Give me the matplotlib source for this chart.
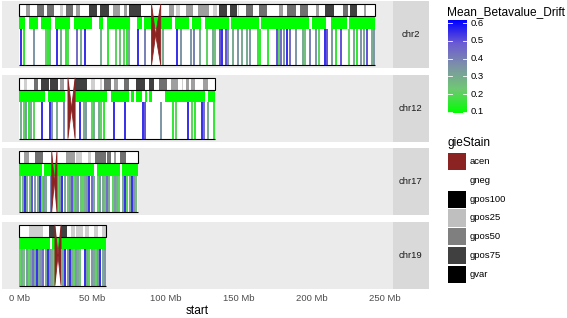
import numpy as np
import matplotlib
matplotlib.use("Agg")
import matplotlib.pyplot as plt
from matplotlib.colors import LinearSegmentedColormap, Normalize
from matplotlib.patches import Rectangle, Polygon

plt.rcParams['font.family'] = ['Liberation Sans', 'DejaVu Sans']

# ---- data -------------------------------------------------------------
chroms = ["chr2", "chr12", "chr17", "chr19"]
chrom_len = [243.2, 133.85, 81.2, 59.13]

# cytobands (start Mb, end Mb, stain)
bands_chr2 = [
    (0, 4.4, "gneg"), (4.4, 7.1, "gpos50"), (7.1, 12.2, "gneg"), (12.2, 16.7, "gpos75"),
    (16.7, 19.2, "gneg"), (19.2, 24.0, "gpos75"), (24.0, 27.9, "gneg"), (27.9, 30.0, "gpos25"),
    (30.0, 32.1, "gneg"), (32.1, 36.6, "gpos75"), (36.6, 38.6, "gneg"), (38.6, 41.8, "gpos50"),
    (41.8, 47.8, "gneg"), (47.8, 52.9, "gpos100"), (52.9, 55.0, "gneg"), (55.0, 61.3, "gpos100"),
    (61.3, 64.1, "gneg"), (64.1, 68.6, "gpos50"), (68.6, 71.5, "gneg"), (71.5, 73.5, "gpos50"),
    (73.5, 75.0, "gneg"), (75.0, 83.3, "gpos100"), (83.3, 90.5, "gneg"), (90.5, 93.3, "acen"),
    (93.3, 96.8, "acen"), (96.8, 102.7, "gneg"), (102.7, 106.0, "gpos50"), (106.0, 107.5, "gneg"),
    (107.5, 110.2, "gpos25"), (110.2, 114.4, "gneg"), (114.4, 118.8, "gpos50"), (118.8, 122.4, "gneg"),
    (122.4, 129.9, "gpos50"), (129.9, 132.5, "gneg"), (132.5, 135.1, "gpos25"), (135.1, 136.8, "gneg"),
    (136.8, 142.2, "gpos100"), (142.2, 144.1, "gneg"), (144.1, 148.7, "gpos100"), (148.7, 149.9, "gneg"),
    (149.9, 150.5, "gpos25"), (150.5, 154.9, "gneg"), (154.9, 159.8, "gpos75"), (159.8, 163.7, "gneg"),
    (163.7, 169.7, "gpos75"), (169.7, 178.0, "gneg"), (178.0, 180.6, "gpos50"), (180.6, 183.0, "gneg"),
    (183.0, 189.4, "gpos75"), (189.4, 191.9, "gneg"), (191.9, 197.4, "gpos75"), (197.4, 203.3, "gneg"),
    (203.3, 204.9, "gpos50"), (204.9, 209.0, "gneg"), (209.0, 215.3, "gpos100"), (215.3, 221.5, "gneg"),
    (221.5, 225.2, "gpos75"), (225.2, 226.1, "gneg"), (226.1, 231.0, "gpos100"), (231.0, 235.6, "gneg"),
    (235.6, 237.3, "gpos50"), (237.3, 243.2, "gneg"),
]
bands_chr12 = [
    (0, 3.3, "gneg"), (3.3, 5.4, "gpos25"), (5.4, 10.1, "gneg"), (10.1, 12.8, "gpos75"),
    (12.8, 14.8, "gneg"), (14.8, 20.0, "gpos100"), (20.0, 21.3, "gneg"), (21.3, 26.5, "gpos100"),
    (26.5, 27.8, "gneg"), (27.8, 30.7, "gpos50"), (30.7, 33.3, "gneg"), (33.3, 35.8, "acen"),
    (35.8, 38.2, "acen"), (38.2, 46.4, "gpos100"), (46.4, 49.1, "gneg"), (49.1, 51.5, "gpos25"),
    (51.5, 54.9, "gneg"), (54.9, 56.6, "gpos25"), (56.6, 58.1, "gneg"), (58.1, 63.1, "gpos75"),
    (63.1, 65.1, "gneg"), (65.1, 67.7, "gpos50"), (67.7, 71.5, "gneg"), (71.5, 75.3, "gpos75"),
    (75.3, 79.9, "gneg"), (79.9, 86.3, "gpos100"), (86.3, 88.6, "gneg"), (88.6, 92.2, "gpos100"),
    (92.2, 95.8, "gneg"), (95.8, 101.2, "gpos75"), (101.2, 103.5, "gneg"), (103.5, 108.6, "gpos50"),
    (108.6, 111.3, "gneg"), (111.3, 111.9, "gpos25"), (111.9, 113.9, "gneg"), (113.9, 116.4, "gpos50"),
    (116.4, 117.7, "gneg"), (117.7, 120.3, "gpos50"), (120.3, 125.4, "gneg"), (125.4, 128.9, "gpos50"),
    (128.9, 133.85, "gneg"),
]
bands_chr17 = [
    (0, 3.3, "gneg"), (3.3, 6.5, "gpos50"), (6.5, 10.7, "gneg"), (10.7, 16.0, "gpos75"),
    (16.0, 22.2, "gneg"), (22.2, 24.0, "acen"), (24.0, 25.8, "acen"), (25.8, 31.8, "gneg"),
    (31.8, 38.1, "gpos50"), (38.1, 38.5, "gneg"), (38.5, 42.8, "gpos25"), (42.8, 46.8, "gneg"),
    (46.8, 49.3, "gpos25"), (49.3, 52.1, "gneg"), (52.1, 59.5, "gpos75"), (59.5, 60.2, "gneg"),
    (60.2, 63.1, "gpos75"), (63.1, 64.6, "gneg"), (64.6, 66.2, "gpos50"), (66.2, 69.1, "gneg"),
    (69.1, 72.9, "gpos75"), (72.9, 76.8, "gneg"), (76.8, 77.2, "gpos25"), (77.2, 81.2, "gneg"),
]
bands_chr19 = [
    (0, 6.9, "gneg"), (6.9, 13.9, "gpos25"), (13.9, 14.0, "gneg"), (14.0, 16.3, "gpos25"),
    (16.3, 20.0, "gneg"), (20.0, 24.4, "gvar"), (24.4, 26.5, "acen"), (26.5, 28.6, "acen"),
    (28.6, 32.4, "gvar"), (32.4, 35.5, "gneg"), (35.5, 38.3, "gpos25"), (38.3, 38.7, "gneg"),
    (38.7, 43.4, "gpos25"), (43.4, 45.2, "gneg"), (45.2, 48.0, "gpos25"), (48.0, 51.4, "gneg"),
    (51.4, 53.6, "gpos25"), (53.6, 56.3, "gneg"), (56.3, 59.13, "gpos25"),
]

# green row intervals (Mb)
green_chr2 = [(0, 3.6), (6.4, 12.8), (15.1, 21.9), (24.2, 34.9), (37.2, 49.8), (54.3, 57.1),
              (60, 76), (80.6, 84), (85.2, 104.6), (106.4, 115.9), (118.3, 124), (127.4, 143.4),
              (145.2, 163.9), (165.5, 198.1), (200.4, 209.6), (213, 224.4), (225.6, 243.2)]
green_chr12 = [(0, 17.8), (19.4, 31.5), (38.2, 60), (63, 74.9), (76.5, 78.8), (80.2, 84.1),
               (86, 87.4), (88.6, 91), (99.5, 127.4), (129, 133.85)]
green_chr17 = [(0, 15.5), (16.7, 50.9), (53.2, 69.2), (70.3, 81.2)]
green_chr19 = [(0, 21.2), (22.4, 44.1), (44.6, 59.13)]

# Mean_Betavalue_Drift regions: position (Mb) and value
pos_chr2 = [1.1, 3.0, 10.3, 18.3, 19.5, 21.0, 25.6, 28.5, 31.7, 33.0, 39.7, 42.2, 45.2, 56.2,
            60.5, 66.2, 68.9, 71.9, 73.5, 75.3, 81.3, 85.8, 98.4, 108.0, 110.7, 117.6, 119.4,
            123.5, 128.6, 132.4, 134.2, 137.0, 138.8, 141.4, 142.7, 146.3, 149.5, 152.5, 155.7,
            158.0, 163.2, 165.0, 170.3, 176.4, 178.0, 179.0, 181.4, 183.0, 185.0, 189.5, 194.0,
            195.5, 199.1, 202.7, 205.0, 208.9, 210.5, 214.1, 217.0, 219.8, 225.5, 229.0, 231.0,
            233.6, 236.0, 238.1, 241.0, 242.7]
val_chr2 = [0.55, 0.15, 0.35, 0.2, 0.15, 0.3, 0.55, 0.3, 0.15, 0.2, 0.45, 0.3, 0.55, 0.3,
            0.15, 0.2, 0.25, 0.2, 0.15, 0.3, 0.55, 0.4, 0.3, 0.55, 0.35, 0.35, 0.4,
            0.3, 0.2, 0.3, 0.25, 0.5, 0.55, 0.5, 0.35, 0.3, 0.35, 0.3, 0.3,
            0.35, 0.15, 0.15, 0.15, 0.5, 0.2, 0.45, 0.35, 0.55, 0.45, 0.35, 0.3,
            0.25, 0.4, 0.35, 0.2, 0.55, 0.5, 0.35, 0.15, 0.5, 0.2, 0.3, 0.15,
            0.35, 0.3, 0.5, 0.3, 0.35]

pos_chr12 = [1.4, 3.0, 4.6, 6.4, 8.2, 10.0, 15.5, 21.2, 22.5, 25.8, 30.4, 41.8, 44.0, 45.7,
             49.8, 51.4, 54.8, 56.0, 58.0, 65.1, 72.6, 84.5, 86.3, 97.1, 105.5, 107.0, 115.3,
             118.3, 120.0, 125.1, 126.5, 129.2, 133.0]
val_chr12 = [0.3, 0.2, 0.35, 0.15, 0.3, 0.2, 0.55, 0.55, 0.35, 0.3, 0.4, 0.55, 0.3, 0.35,
             0.2, 0.3, 0.3, 0.2, 0.15, 0.55, 0.55, 0.55, 0.5, 0.35, 0.15, 0.2, 0.55,
             0.2, 0.15, 0.55, 0.45, 0.3, 0.15]

pos_chr17 = [0.5, 2.5, 4.0, 5.5, 7.5, 9.0, 11.0, 12.5, 14.0, 15.5, 17.0, 18.5, 22.0, 26.5,
             28.0, 29.5, 31.0, 33.0, 34.5, 36.0, 37.5, 39.0, 40.5, 42.0, 43.5, 45.0, 46.5,
             48.0, 49.5, 51.0, 54.0, 55.5, 57.0, 58.5, 60.0, 61.2, 64.0, 65.5, 67.0, 68.3,
             71.0, 72.5, 74.0, 75.5, 77.0, 78.5, 80.0]
val_chr17 = [0.2, 0.3, 0.55, 0.3, 0.25, 0.5, 0.35, 0.3, 0.55, 0.2, 0.35, 0.3, 0.4, 0.2,
             0.35, 0.55, 0.3, 0.25, 0.35, 0.5, 0.2, 0.3, 0.35, 0.25, 0.2, 0.3, 0.35,
             0.55, 0.45, 0.3, 0.2, 0.35, 0.3, 0.25, 0.45, 0.3, 0.2, 0.35, 0.3, 0.2,
             0.3, 0.55, 0.2, 0.3, 0.55, 0.35, 0.25]

pos_chr19 = [0.5, 2.0, 3.5, 5.0, 6.5, 8.0, 9.5, 11.0, 12.2, 13.5, 15.0, 16.5, 18.0, 19.5,
             21.0, 22.5, 24.0, 30.0, 31.5, 33.0, 34.5, 36.0, 37.5, 39.0, 40.5, 41.5, 45.0,
             46.5, 48.0, 49.5, 51.0, 52.5, 54.0, 55.5, 57.0, 58.5]
val_chr19 = [0.2, 0.3, 0.25, 0.35, 0.2, 0.3, 0.45, 0.3, 0.55, 0.3, 0.35, 0.45, 0.3, 0.55,
             0.35, 0.3, 0.2, 0.3, 0.55, 0.35, 0.55, 0.3, 0.2, 0.35, 0.3, 0.25, 0.55,
             0.3, 0.2, 0.35, 0.3, 0.2, 0.35, 0.55, 0.3, 0.35]

x_ticks = [0, 50, 100, 150, 200, 250]
x_tick_labels = ["0 Mb", "50 Mb", "100 Mb", "150 Mb", "200 Mb", "250 Mb"]
cbar_ticks = [0.1, 0.2, 0.3, 0.4, 0.5, 0.6]
drift_min, drift_max = 0.093, 0.617

stain_names = ["acen", "gneg", "gpos100", "gpos25", "gpos50", "gpos75", "gvar"]
stain_colors = {"acen": "#8B2323", "gneg": "#FFFFFF", "gpos100": "#000000",
                "gpos25": "#BFBFBF", "gpos50": "#7F7F7F", "gpos75": "#404040",
                "gvar": "#000000"}

all_bands = [bands_chr2, bands_chr12, bands_chr17, bands_chr19]
all_green = [green_chr2, green_chr12, green_chr17, green_chr19]
all_pos = [pos_chr2, pos_chr12, pos_chr17, pos_chr19]
all_val = [val_chr2, val_chr12, val_chr17, val_chr19]

# ggplot-style green -> blue gradient (Lab interpolated)
cmap = LinearSegmentedColormap.from_list(
    "drift", ["#00FF00", "#6FC972", "#7D93A6", "#6C5BD3", "#0000FF"])
norm = Normalize(drift_min, drift_max)

# ---- layout (pixel helpers) ------------------------------------------
W, H = 567, 318
fig = plt.figure(figsize=(W / 100, H / 100), dpi=100)


def fx(px):
    return px / W


def fy(py):
    return 1 - py / H


panel_left, panel_right = 1.5, 392.5
strip_right = 429
panel_tops = [1.2, 74.7, 148.2, 221.7]
panel_h = 67

xmax = max(chrom_len)
xlim = (-0.05 * xmax, xmax * 1.05)

for i, name in enumerate(chroms):
    top = panel_tops[i]
    ax = fig.add_axes([fx(panel_left), fy(top + panel_h), fx(panel_right) - fx(panel_left),
                       panel_h / H])
    ax.set_facecolor("#EBEBEB")
    ax.set_xlim(*xlim)
    ax.set_ylim(1.05, -0.05)
    for s in ax.spines.values():
        s.set_visible(False)
    ax.set_yticks([])
    ax.tick_params(length=0)
    L = chrom_len[i]

    # white base of chromosome
    ax.add_patch(Rectangle((0, 0), L, 1.0, facecolor="white", edgecolor="none", zorder=1))

    # ideogram
    acen = []
    for s, e, st in all_bands[i]:
        if st == "acen":
            acen.append((s, e))
            continue
        ax.add_patch(Rectangle((s, 0), e - s, 0.2, facecolor=stain_colors[st],
                               edgecolor="none", alpha=0.75, zorder=2))
    ax.add_patch(Rectangle((0, 0), L, 0.2, facecolor="none", edgecolor="black",
                           lw=0.8, zorder=5))

    # green row
    for s, e in all_green[i]:
        ax.add_patch(Rectangle((s, 0.2), e - s, 0.2, facecolor="#00FF00",
                               edgecolor="none", zorder=2))

    # drift regions
    ax.vlines(all_pos[i], 0.4, 1.0, colors=cmap(norm(np.array(all_val[i]))),
              lw=1.4, zorder=3)

    # bottom line
    ax.plot([0, L], [1.0, 1.0], color="black", lw=0.8, zorder=5, solid_capstyle="butt")

    # centromere bowtie
    (ps, pe), (qs, qe) = acen
    ax.add_patch(Polygon([(ps, 0), (ps, 1.0), (pe, 0.5)], closed=True,
                         facecolor="#8B2323", edgecolor="#8B2323", lw=0.6, zorder=6))
    ax.add_patch(Polygon([(qe, 0), (qe, 1.0), (qs, 0.5)], closed=True,
                         facecolor="#8B2323", edgecolor="#8B2323", lw=0.6, zorder=6))

    if i == len(chroms) - 1:
        ax.set_xticks(x_ticks)
        ax.set_xticklabels(x_tick_labels, fontsize=6.8, color="#4D4D4D")
        ax.tick_params(axis="x", pad=4)
    else:
        ax.set_xticks([])

    # strip
    sax = fig.add_axes([fx(panel_right), fy(top + panel_h), fx(strip_right) - fx(panel_right),
                        panel_h / H])
    sax.set_facecolor("#D9D9D9")
    sax.set_xticks([])
    sax.set_yticks([])
    for s in sax.spines.values():
        s.set_visible(False)
    sax.text(0.5, 0.5, name, ha="center", va="center", fontsize=6.8, color="#1A1A1A",
             transform=sax.transAxes)

fig.text(fx((panel_left + panel_right) / 2), fy(311.5), "start", ha="center", va="center",
         fontsize=8.6)

# ---- colourbar legend ------------------------------------------------
fig.text(fx(447.5), fy(12.5), "Mean_Betavalue_Drift", ha="left", va="center", fontsize=8.6)
cb_top, cb_bot = 20, 113
cax = fig.add_axes([fx(447.7), fy(cb_bot), fx(466.7) - fx(447.7), (cb_bot - cb_top) / H])
grad = np.linspace(drift_min, drift_max, 200).reshape(-1, 1)
cax.imshow(grad, cmap=cmap, norm=norm, aspect="auto", origin="lower",
           extent=(0, 1, drift_min, drift_max))
cax.set_xlim(0, 1)
cax.set_ylim(drift_min, drift_max)
cax.set_xticks([])
cax.set_yticks([])
for s in cax.spines.values():
    s.set_visible(False)
for t in cbar_ticks:
    cax.plot([0, 0.2], [t, t], color="white", lw=0.6)
    cax.plot([0.8, 1], [t, t], color="white", lw=0.6)
    py = cb_bot - (t - drift_min) / (drift_max - drift_min) * (cb_bot - cb_top)
    fig.text(fx(471), fy(py), f"{t:.1f}", ha="left", va="center", fontsize=6.8,
             color="black")

# ---- gieStain legend -------------------------------------------------
fig.text(fx(447.5), fy(143), "gieStain", ha="left", va="center", fontsize=8.6)
key_top0, key_step, key_h = 152.9, 18.8, 17.3
for k, st in enumerate(stain_names):
    kt = key_top0 + k * key_step
    fig.patches.append(Rectangle((fx(447.7), fy(kt + key_h)), fx(465.7) - fx(447.7),
                                 key_h / H, transform=fig.transFigure,
                                 facecolor=stain_colors[st], edgecolor="none"))
    fig.text(fx(469.5), fy(kt + key_h / 2), st, ha="left", va="center", fontsize=6.8)

fig.savefig("out.png", dpi=100)
